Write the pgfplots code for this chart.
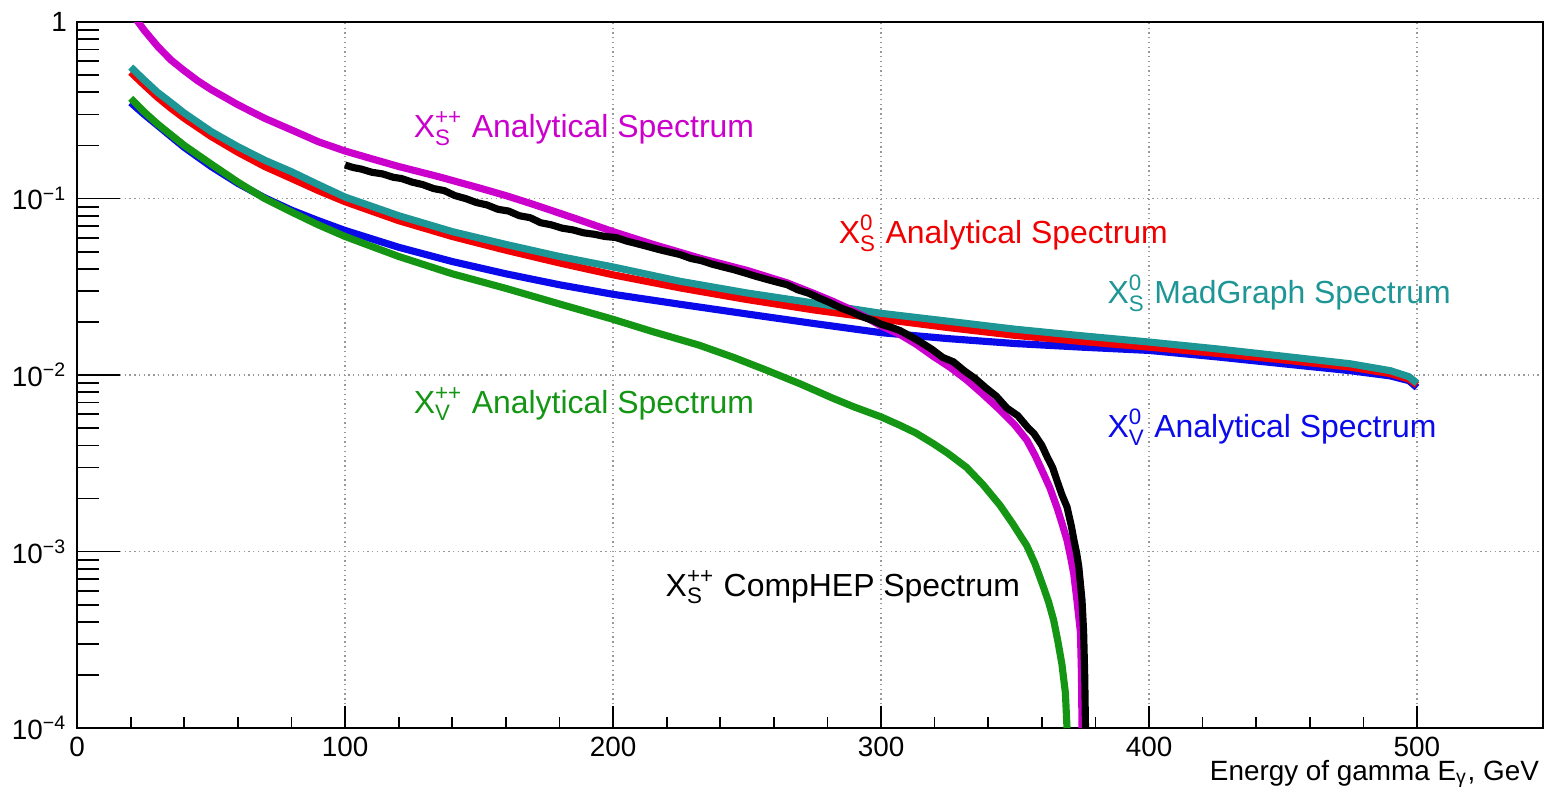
\documentclass[border=0pt]{standalone}
\usepackage{pgfplots}
\pgfplotsset{compat=1.18}
\usepackage{amsmath}
\usepackage{fontspec}
\setmainfont{Liberation Sans}

\definecolor{cmag}{RGB}{204,0,204}
\definecolor{cred}{RGB}{240,0,0}
\definecolor{cteal}{RGB}{30,150,150}
\definecolor{cblue}{RGB}{10,10,235}
\definecolor{cgreen}{RGB}{20,150,20}

% X with stacked sub/superscript
\newcommand{\X}[2]{X\ensuremath{^{\text{#1}}_{\text{#2}}}}
\newcommand{\lfont}{\fontsize{8.2}{9.8}\selectfont}
\newcommand{\tfont}{\fontsize{9.4}{11}\selectfont}

\begin{document}
\begin{tikzpicture}
\begin{axis}[
    scale only axis,
    width=431.4pt, height=207.8pt,
    ymode=log,
    xmin=0, xmax=547,
    ymin=1e-4, ymax=1,
    axis line style={line width=0.6pt},
    tick pos=left,
    tick align=inside,
    xtick={0,100,200,300,400,500},
    minor x tick num=4,
    ytick={1e-4,1e-3,1e-2,1e-1,1},
    yticklabels={10\textsuperscript{−4},10\textsuperscript{−3},10\textsuperscript{−2},10\textsuperscript{−1},1},
    minor ytick={2e-4,3e-4,4e-4,5e-4,6e-4,7e-4,8e-4,9e-4,
                 2e-3,3e-3,4e-3,5e-3,6e-3,7e-3,8e-3,9e-3,
                 2e-2,3e-2,4e-2,5e-2,6e-2,7e-2,8e-2,9e-2,
                 0.2,0.3,0.4,0.5,0.6,0.7,0.8,0.9},
    major tick length=6.5pt,
    minor tick length=3.3pt,
    ytick style={/pgfplots/major tick length=12.7pt, /pgfplots/minor tick length=6.5pt},
    tick style={black, line width=0.5pt},
    grid=major,
    major grid style={densely dotted, gray!80, line width=0.5pt},
    /pgf/number format/assume math mode=true,
    xticklabel style={font=\lfont, yshift=0.8pt},
    yticklabel style={font=\lfont, xshift=0.5pt},
    xlabel={Energy of gamma E\textsubscript{γ}, GeV},
    xlabel style={font=\lfont, at={(rel axis cs:1,0)}, anchor=north east,
                  inner sep=0pt, yshift=-9.3pt, xshift=-1pt},
    clip=true,
    every axis plot/.append style={line width=2.1pt, no marks, line join=round},
]
% X_V^0 analytical (blue)
\addplot[cblue] coordinates {
(20,0.35) (25,0.30) (30,0.26) (35,0.225) (40,0.195) (50,0.152) (60,0.122)
(70,0.101) (80,0.086) (90,0.075) (100,0.066) (120,0.053) (140,0.044)
(160,0.0375) (180,0.0325) (200,0.0287) (225,0.0252) (250,0.0222) (275,0.0196)
(300,0.0174) (325,0.0161) (350,0.0151) (375,0.0144) (400,0.0138) (425,0.0127)
(450,0.0116) (475,0.0106) (490,0.0099) (497,0.0093) (500,0.0085)
};
% X_V^++ analytical (green)
\addplot[cgreen] coordinates {
(20,0.37) (25,0.31) (30,0.265) (35,0.23) (40,0.20) (50,0.157) (60,0.124)
(70,0.100) (80,0.084) (90,0.071) (100,0.061) (120,0.047) (140,0.0375)
(160,0.031) (180,0.0253) (200,0.0207) (215,0.0176) (232,0.0148) (245,0.0126)
(257,0.0107) (270,0.0089) (282,0.0074) (290,0.0066) (300,0.0058) (307,0.0052)
(313,0.0047) (319.4,0.0041) (325,0.0036) (331.9,0.0030) (338,0.0024)
(344.4,0.00183) (349,0.00145) (354.4,0.00108) (357.5,0.00085) (360.6,0.00063)
(362.5,0.00052) (364.4,0.00041) (366,0.00031) (367.5,0.00023) (368.8,0.000158)
(369.4,0.0001)
};
% X_S^0 analytical (red)
\addplot[cred] coordinates {
(20,0.52) (25,0.44) (30,0.375) (35,0.325) (40,0.285) (50,0.225) (60,0.183)
(70,0.152) (80,0.130) (90,0.111) (100,0.096) (120,0.075) (140,0.061)
(160,0.051) (180,0.0432) (200,0.0370) (225,0.0312) (250,0.0268) (275,0.0234)
(300,0.0208) (325,0.0186) (350,0.0168) (375,0.0155) (400,0.0144) (425,0.0133)
(450,0.0122) (475,0.0111) (490,0.0102) (497,0.0095) (500,0.0088)
};
% X_S^0 MadGraph (teal)
\addplot[cteal] coordinates {
(20,0.556) (25,0.47) (30,0.40) (35,0.35) (40,0.305) (50,0.24) (60,0.197)
(70,0.165) (80,0.142) (90,0.120) (100,0.102) (120,0.080) (140,0.065)
(160,0.055) (180,0.047) (200,0.041) (225,0.034) (250,0.0292) (275,0.0256)
(300,0.0224) (325,0.0202) (350,0.0182) (375,0.0167) (400,0.0154) (425,0.0141)
(450,0.0128) (475,0.0116) (490,0.0106) (497,0.0098) (500,0.0090)
};
% X_S^++ analytical (magenta)
\addplot[cmag] coordinates {
(20,1.12) (22.8,1.0) (25,0.90) (30,0.73) (35,0.61) (40,0.53) (45,0.465)
(50,0.415) (60,0.34) (70,0.285) (83,0.234) (90,0.210) (100,0.186) (110,0.168)
(120,0.152) (135,0.133) (150,0.115) (160,0.104) (170,0.093) (185,0.078)
(200,0.065) (215,0.055) (232.8,0.0458) (250,0.0392) (265,0.0333) (275,0.0290)
(282,0.0262) (288,0.0238) (294,0.0214) (300,0.0190) (307,0.0170) (313,0.0150)
(319.4,0.0128) (326,0.0110) (331.9,0.0094) (338,0.0078) (344.4,0.00634)
(350,0.0052) (354.4,0.00428) (357.5,0.0035) (360.6,0.00277) (363,0.0023)
(365.6,0.00179) (367.5,0.00145) (369.4,0.00116) (370.8,0.00092)
(371.9,0.00075) (373.1,0.00053) (374.4,0.00035) (374.8,0.0002) (375,0.0001)
};
% X_S^++ CompHEP (black)
\addplot[black] coordinates {
(100,0.155) (103,0.150) (106,0.147) (110,0.141) (114,0.138) (118,0.132)
(121,0.130) (125,0.124) (129,0.120) (133,0.114) (137,0.111) (141,0.104)
(145,0.100) (149,0.095) (153,0.092) (157,0.087) (161,0.085) (165,0.080)
(169,0.078) (173,0.073) (177,0.071) (181,0.068) (185,0.0665) (189,0.064)
(193,0.0628) (197,0.061) (201,0.0602) (205,0.0575) (209,0.0555) (213,0.0535)
(217,0.0515) (221,0.0498) (225,0.0482) (229,0.0458) (233,0.0445) (237,0.0425)
(241,0.0410) (245,0.0396) (249,0.0380) (253,0.0364) (257,0.0350) (261,0.0337)
(265,0.0325) (269,0.0304) (273,0.0291) (277,0.0273) (281,0.0257) (285,0.0240)
(289,0.0228) (293,0.0214) (297,0.0204) (300,0.0194) (304,0.0186) (307,0.0179)
(311,0.0166) (315,0.0153) (319,0.0140) (323,0.0126) (327,0.0119) (331,0.0106)
(335,0.0096) (339,0.0085) (343,0.0076) (347,0.0065) (351,0.0059) (355,0.0050)
(357,0.00468) (360,0.0040) (362,0.00344) (364,0.0030) (365.6,0.00254)
(367.5,0.0021) (369.4,0.00179) (371,0.00140) (372,0.00116) (373,0.00098)
(373.8,0.00082) (375,0.00053) (375.6,0.00035) (376,0.0002) (376.3,0.0001)
};
% labels
\node[cmag, font=\tfont, anchor=west, inner sep=0pt] at (axis cs:125.4,0.25) {\X{++}{S} Analytical Spectrum};
\node[cred, font=\tfont, anchor=west, inner sep=0pt] at (axis cs:284,0.0638) {\X{0}{S} Analytical Spectrum};
\node[cteal, font=\tfont, anchor=west, inner sep=0pt] at (axis cs:384.3,0.0292) {\X{0}{S} MadGraph Spectrum};
\node[cgreen, font=\tfont, anchor=west, inner sep=0pt] at (axis cs:125.4,0.00685) {\X{++}{V} Analytical Spectrum};
\node[cblue, font=\tfont, anchor=west, inner sep=0pt] at (axis cs:384.3,0.00507) {\X{0}{V} Analytical Spectrum};
\node[black, font=\tfont, anchor=west, inner sep=0pt] at (axis cs:219.4,0.00063) {\X{++}{S} CompHEP Spectrum};
\end{axis}
\pgfresetboundingbox
\path[use as bounding box] ([shift={(-22.7pt,-19.1pt)}]current axis.south west)
    rectangle ([shift={(1.2pt,6.5pt)}]current axis.north east);
\end{tikzpicture}
\end{document}
